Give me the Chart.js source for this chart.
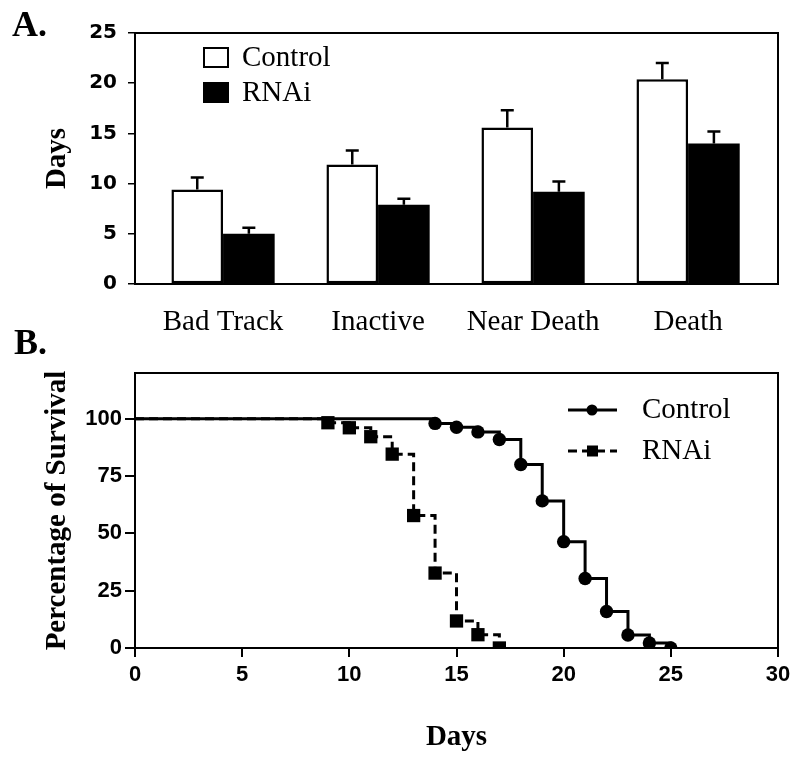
<!DOCTYPE html>
<html>
<head>
<meta charset="utf-8">
<script src="https://cdn.jsdelivr.net/npm/chart.js@4.4.1/dist/chart.umd.min.js"></script>
<style>
  body { margin: 0; background: #fff; }
  .wrap { position: relative; width: 800px; height: 764px; }
  #chartA { position: absolute; left: 0; top: 0; }
  #chartB { position: absolute; left: 0; top: 345px; }
  .panel { position: absolute; font: bold 36px "Liberation Serif", serif; line-height: 36px; color: #000; }
</style>
</head>
<body>
<div class="wrap">
  <canvas id="chartA" width="800" height="345"></canvas>
  <canvas id="chartB" width="800" height="419"></canvas>
  <div class="panel" style="left:12px; top:6px">A.</div>
  <div class="panel" style="left:14px; top:324px">B.</div>
</div>
<script>
// panel A - days to reach each stage
const stages = ["Bad Track", "Inactive", "Near Death", "Death"];
const controlDays = [9.4, 11.9, 15.6, 20.4];
const controlErr = [1.2, 1.4, 1.7, 1.6];
const rnaiDays = [5.0, 7.9, 9.2, 14.0];
const rnaiErr = [0.6, 0.6, 1.0, 1.2];

// panel B - survival curves
const controlTime = [0, 14, 15, 16, 17, 18, 19, 20, 21, 22, 23, 24, 25];
const controlSurvival = [100, 98, 96.3, 94.3, 91, 80.1, 64.2, 46.4, 30.3, 15.9, 5.7, 2.2, 0];
const rnaiTime = [0, 9, 10, 11, 12, 13, 14, 15, 16, 17];
const rnaiSurvival = [100, 98.3, 96.1, 92.2, 84.6, 57.8, 32.7, 11.8, 5.8, 0];

const serif = '"Liberation Serif", "Times New Roman", serif';

const frame = {
    id: "frame",
    afterDatasetsDraw(chart) {
        const { ctx, chartArea: a } = chart;
        ctx.save();
        ctx.strokeStyle = "#000";
        ctx.lineWidth = 2;
        ctx.strokeRect(a.left, a.top, a.right - a.left, a.bottom - a.top);
        ctx.restore();
    },
};

const errorBars = {
    id: "errorBars",
    afterDatasetsDraw(chart) {
        const ctx = chart.ctx;
        const yScale = chart.scales.y;
        chart.data.datasets.forEach((ds, i) => {
            const meta = chart.getDatasetMeta(i);
            meta.data.forEach((bar, j) => {
                const top = yScale.getPixelForValue(ds.data[j].y + ds.errors[j]);
                ctx.save();
                ctx.strokeStyle = "#000";
                ctx.lineWidth = 2.5;
                ctx.beginPath();
                ctx.moveTo(bar.x, bar.y);
                ctx.lineTo(bar.x, top);
                ctx.moveTo(bar.x - 6.5, top);
                ctx.lineTo(bar.x + 6.5, top);
                ctx.stroke();
                ctx.restore();
            });
        });
    },
};

const boxLegend = {
    id: "boxLegend",
    afterDraw(chart) {
        const ctx = chart.ctx;
        ctx.save();
        chart.data.datasets.forEach((ds, i) => {
            const y = 58 + i * 35;
            ctx.fillStyle = ds.backgroundColor;
            ctx.fillRect(204, y - 10, 24, 19);
            ctx.strokeStyle = "#000";
            ctx.lineWidth = 2;
            ctx.strokeRect(204, y - 10, 24, 19);
            ctx.fillStyle = "#000";
            ctx.font = "29px " + serif;
            ctx.textBaseline = "middle";
            ctx.fillText(ds.label, 242, y + 0.5);
        });
        ctx.restore();
    },
};

const lineLegend = {
    id: "lineLegend",
    afterDraw(chart) {
        const ctx = chart.ctx;
        ctx.save();
        chart.data.datasets.forEach((ds, i) => {
            const y = 65 + i * 41;
            ctx.strokeStyle = "#000";
            ctx.lineWidth = 3;
            ctx.setLineDash(ds.borderDash || []);
            ctx.beginPath();
            ctx.moveTo(568, y);
            ctx.lineTo(617, y);
            ctx.stroke();
            ctx.setLineDash([]);
            ctx.fillStyle = "#000";
            if (ds.pointStyle === "rect") {
                ctx.fillRect(587, y - 5.5, 11, 11);
            } else {
                ctx.beginPath();
                ctx.arc(592, y, 5.5, 0, Math.PI * 2);
                ctx.fill();
            }
            ctx.font = "29px " + serif;
            ctx.textBaseline = "middle";
            ctx.fillText(ds.label, 642, y + 0.5);
        });
        ctx.restore();
    },
};

new Chart(document.getElementById("chartA"), {
    type: "bar",
    data: {
        datasets: [
            {
                label: "Control",
                data: controlDays.map((v, i) => ({ x: i, y: v })),
                errors: controlErr,
                backgroundColor: "#fff",
                borderColor: "#000",
                borderWidth: 2.5,
                borderSkipped: false,
            },
            {
                label: "RNAi",
                data: rnaiDays.map((v, i) => ({ x: i, y: v })),
                errors: rnaiErr,
                backgroundColor: "#000",
                borderColor: "#000",
                borderWidth: 0,
            },
        ],
    },
    options: {
        responsive: false,
        animation: false,
        categoryPercentage: 0.666,
        barPercentage: 1,
        layout: { padding: { top: 33, right: 22, left: 0, bottom: 0 } },
        plugins: { legend: { display: false }, tooltip: { enabled: false } },
        scales: {
            x: {
                type: "linear",
                offset: false,
                min: -0.568,
                max: 3.58,
                border: { display: false },
                grid: { display: false, drawTicks: false },
                ticks: {
                    stepSize: 1,
                    includeBounds: false,
                    autoSkip: false,
                    maxRotation: 0,
                    padding: 21,
                    color: "#000",
                    font: { family: serif, size: 29 },
                    callback: (v) => stages[v],
                },
                afterFit: (s) => { s.height = 61; },
            },
            y: {
                min: 0,
                max: 25,
                border: { display: false },
                grid: { drawOnChartArea: false, tickLength: 7, color: "#000", lineWidth: 1.5 },
                ticks: {
                    stepSize: 5,
                    padding: 11,
                    color: "#000",
                    font: { family: "DejaVu Sans", weight: "bold", size: 20 },
                },
                title: {
                    display: true,
                    text: "Days",
                    color: "#000",
                    font: { family: serif, weight: "bold", size: 29 },
                    padding: { top: 40, bottom: 0 },
                },
                afterFit: (s) => { s.width = 135; },
            },
        },
    },
    plugins: [errorBars, frame, boxLegend],
});

new Chart(document.getElementById("chartB"), {
    type: "line",
    data: {
        datasets: [
            {
                label: "Control",
                data: controlTime.map((d, i) => ({ x: d, y: controlSurvival[i] })),
                borderColor: "#000",
                backgroundColor: "#000",
                borderWidth: 3,
                stepped: true,
                pointStyle: "circle",
                pointRadius: (c) => (c.dataIndex === 0 ? 0 : 6.7),
                pointBorderWidth: 0,
            },
            {
                label: "RNAi",
                data: rnaiTime.map((d, i) => ({ x: d, y: rnaiSurvival[i] })),
                borderColor: "#000",
                backgroundColor: "#000",
                borderWidth: 3,
                borderDash: [9, 5],
                stepped: true,
                pointStyle: "rect",
                pointRadius: (c) => (c.dataIndex === 0 ? 0 : 9.4),
                pointBorderWidth: 0,
            },
        ],
    },
    options: {
        responsive: false,
        animation: false,
        layout: { padding: { top: 28, right: 22, left: 0, bottom: 0 } },
        plugins: { legend: { display: false }, tooltip: { enabled: false } },
        scales: {
            x: {
                type: "linear",
                min: 0,
                max: 30,
                border: { display: false },
                grid: { drawOnChartArea: false, tickLength: 9, color: "#000", lineWidth: 2 },
                ticks: {
                    stepSize: 5,
                    padding: 5,
                    color: "#000",
                    font: { family: "Liberation Sans", weight: "bold", size: 22 },
                },
                title: {
                    display: true,
                    text: "Days",
                    color: "#000",
                    font: { family: serif, weight: "bold", size: 29 },
                    padding: { top: 0, bottom: 9 },
                },
                afterFit: (s) => { s.height = 116; },
            },
            y: {
                min: 0,
                max: 120,
                border: { display: false },
                grid: { drawOnChartArea: false, tickLength: 10, color: "#000", lineWidth: 2 },
                ticks: {
                    stepSize: 25,
                    includeBounds: false,
                    padding: 3,
                    color: "#000",
                    font: { family: "Liberation Sans", weight: "bold", size: 22 },
                },
                title: {
                    display: true,
                    text: "Percentage of Survival",
                    color: "#000",
                    font: { family: serif, weight: "bold", size: 29 },
                    padding: { top: 40, bottom: 0 },
                },
                afterFit: (s) => { s.width = 135; },
            },
        },
    },
    plugins: [frame, lineLegend],
});
</script>
</body>
</html>
